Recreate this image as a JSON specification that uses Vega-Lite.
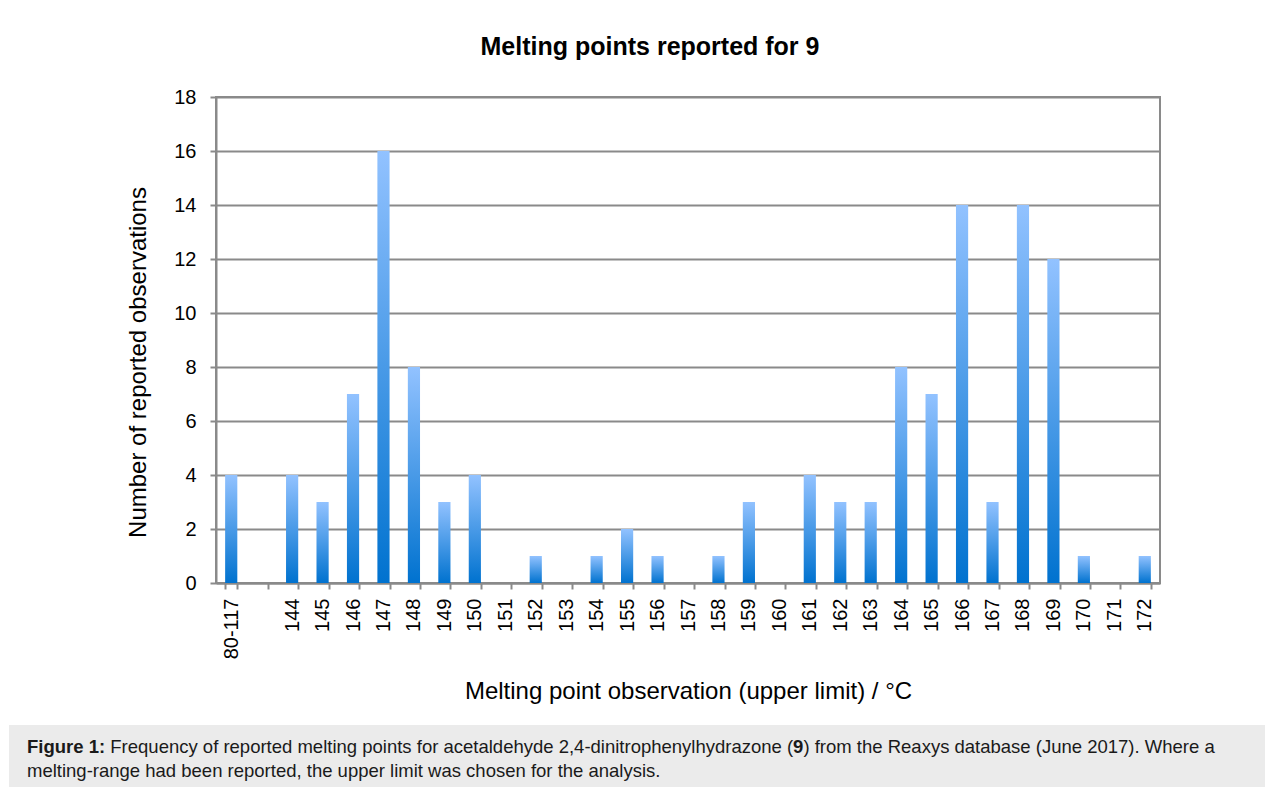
{
  "$schema": "https://vega.github.io/schema/vega-lite/v6.json",
  "padding": {"left": 9, "top": 34, "right": 0, "bottom": 0},
  "background": "white",
  "config": {"font": "Liberation Sans"},
  "datasets": {
    "melt": [
      {"c": "80-117", "n": 4},
      {"c": " ", "n": 0},
      {"c": "144", "n": 4},
      {"c": "145", "n": 3},
      {"c": "146", "n": 7},
      {"c": "147", "n": 16},
      {"c": "148", "n": 8},
      {"c": "149", "n": 3},
      {"c": "150", "n": 4},
      {"c": "151", "n": 0},
      {"c": "152", "n": 1},
      {"c": "153", "n": 0},
      {"c": "154", "n": 1},
      {"c": "155", "n": 2},
      {"c": "156", "n": 1},
      {"c": "157", "n": 0},
      {"c": "158", "n": 1},
      {"c": "159", "n": 3},
      {"c": "160", "n": 0},
      {"c": "161", "n": 4},
      {"c": "162", "n": 3},
      {"c": "163", "n": 3},
      {"c": "164", "n": 8},
      {"c": "165", "n": 7},
      {"c": "166", "n": 14},
      {"c": "167", "n": 3},
      {"c": "168", "n": 14},
      {"c": "169", "n": 12},
      {"c": "170", "n": 1},
      {"c": "171", "n": 0},
      {"c": "172", "n": 1}
    ],
    "cap": [
      {"line": 1, "part": "a", "text": "Figure 1:"},
      {"line": 1, "part": "b", "text": "Frequency of reported melting points for acetaldehyde 2,4-dinitrophenylhydrazone ("},
      {"line": 1, "part": "c", "text": "9"},
      {"line": 1, "part": "d", "text": ") from the Reaxys database (June 2017). Where a"},
      {"line": 2, "part": "e", "text": "melting-range had been reported, the upper limit was chosen for the analysis."}
    ]
  },
  "bounds": "flush",
  "spacing": 628,
  "vconcat": [
    {
      "bounds": "flush",
      "spacing": 0,
      "hconcat": [
        {
          "width": 207,
          "height": 10,
          "data": {"values": []},
          "mark": "point",
          "view": {"stroke": null}
        },
        {
          "width": 944,
          "height": 486,
          "data": {"name": "melt"},
          "title": {
            "text": "Melting points reported for 9",
            "fontSize": 25,
            "fontWeight": "bold",
            "color": "black",
            "anchor": "middle",
            "dx": -38,
            "offset": 27
          },
          "view": {"stroke": "#8a8a8a", "strokeWidth": 2},
          "mark": {
            "type": "bar",
            "color": {
              "gradient": "linear",
              "x1": 0, "y1": 0, "x2": 0, "y2": 1,
              "stops": [
                {"offset": 0, "color": "#92c2ff"},
                {"offset": 1, "color": "#0072cf"}
              ]
            }
          },
          "encoding": {
            "x": {
              "field": "c",
              "type": "nominal",
              "sort": null,
              "scale": {"paddingInner": 0.6, "paddingOuter": 0.3},
              "axis": {
                "title": "Melting point observation (upper limit) / °C",
                "titleFontSize": 24,
                "titleFontWeight": "normal",
                "titleColor": "black",
                "titleY": 115,
                "titleBaseline": "alphabetic",
                "labelAngle": -90,
                "labelFontSize": 20,
                "labelColor": "black",
                "labelPadding": 9,
                "tickSize": 6,
                "tickWidth": 2,
                "tickColor": "#8a8a8a",
                "tickBand": "extent",
                "domainColor": "#8a8a8a",
                "domainWidth": 2,
                "grid": false
              }
            },
            "y": {
              "field": "n",
              "type": "quantitative",
              "scale": {"domain": [0, 18], "nice": false},
              "axis": {
                "values": [0, 2, 4, 6, 8, 10, 12, 14, 16, 18],
                "title": "Number of reported observations",
                "titleFontSize": 24,
                "titleFontWeight": "normal",
                "titleColor": "black",
                "titleX": -78,
                "titleY": 265,
                "titleBaseline": "middle",
                "titleAlign": "center",
                "titleAngle": -90,
                "labelFontSize": 20,
                "labelColor": "black",
                "labelPadding": 14,
                "tickSize": 6,
                "tickWidth": 2,
                "tickColor": "#8a8a8a",
                "domainColor": "#8a8a8a",
                "domainWidth": 2,
                "grid": true,
                "gridColor": "#8a8a8a",
                "gridWidth": 2
              }
            }
          }
        }
      ]
    },
    {
      "width": 1256,
      "height": 63,
      "data": {"name": "cap"},
      "view": {"fill": "#ebebeb", "stroke": null},
      "encoding": {
        "x": {"datum": 0, "type": "quantitative", "scale": {"domain": [0, 1], "zero": false, "nice": false}, "axis": null},
        "y": {"field": "line", "type": "quantitative", "scale": {"domain": [-0.1667, 2.4583], "reverse": true, "zero": false, "nice": false}, "axis": null},
        "text": {"field": "text", "type": "nominal"}
      },
      "layer": [
        {
          "transform": [{"filter": "datum.part === 'a'"}],
          "mark": {"type": "text", "align": "left", "baseline": "alphabetic", "fontSize": 18.5, "fontWeight": "bold", "color": "#1a1a1a", "dx": 18}
        },
        {
          "transform": [{"filter": "datum.part === 'b'"}],
          "mark": {"type": "text", "align": "left", "baseline": "alphabetic", "fontSize": 18.5, "color": "#1a1a1a", "dx": 101.3}
        },
        {
          "transform": [{"filter": "datum.part === 'c'"}],
          "mark": {"type": "text", "align": "left", "baseline": "alphabetic", "fontSize": 18.5, "fontWeight": "bold", "color": "#1a1a1a", "dx": 784.1}
        },
        {
          "transform": [{"filter": "datum.part === 'd'"}],
          "mark": {"type": "text", "align": "left", "baseline": "alphabetic", "fontSize": 18.5, "color": "#1a1a1a", "dx": 794.4}
        },
        {
          "transform": [{"filter": "datum.part === 'e'"}],
          "mark": {"type": "text", "align": "left", "baseline": "alphabetic", "fontSize": 18.5, "color": "#1a1a1a", "dx": 18}
        }
      ]
    }
  ]
}
